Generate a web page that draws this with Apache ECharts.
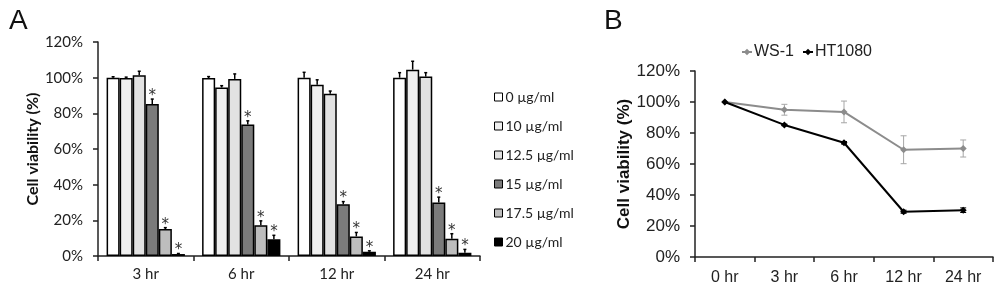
<!DOCTYPE html>
<html>
<head>
<meta charset="utf-8">
<script src="https://cdn.jsdelivr.net/npm/echarts@6/dist/echarts.min.js"></script>
<style>
html,body{margin:0;padding:0;background:#fff;}
#c{width:1000px;height:290px;}
</style>
</head>
<body>
<div id="c"></div>
<script>
// ---------- Panel A data ----------
const timesA = ['3 hr', '6 hr', '12 hr', '24 hr'];
const doses = ['0 µg/ml', '10 µg/ml', '12.5 µg/ml', '15 µg/ml', '17.5 µg/ml', '20 µg/ml'];
const dose0 = [100, 99.8, 100, 100];
const dose10 = [99.8, 94.5, 96, 104.5];
const dose125 = [101.4, 99.3, 91, 100.6];
const dose15 = [85.2, 73.8, 29, 30];
const dose175 = [15.1, 17.3, 11, 9.7];
const dose20 = [1.1, 9.4, 2.4, 1.8];
const err0 = [0.5, 0.8, 3, 2.8];
const err10 = [0.5, 1, 2.8, 4.7];
const err125 = [2.2, 2.8, 1.5, 2.2];
const err15 = [2.8, 2, 1.5, 3];
const err175 = [0.8, 2.4, 2.2, 2.8];
const err20 = [0.3, 2.2, 0.5, 1.9];
const sigA = [false, false, false, true, true, true];
const yTicksA = [0, 20, 40, 60, 80, 100, 120];

// ---------- Panel B data ----------
const timesB = ['0 hr', '3 hr', '6 hr', '12 hr', '24 hr'];
const ws1 = [100, 95, 93.6, 69.2, 70];
const ws1Err = [0, 3.5, 7, 9, 5.5];
const ht1080 = [100, 85.2, 73.7, 29.2, 30.2];
const ht1080Err = [0, 0.5, 0.8, 1, 1.5];
const yTicksB = [0, 20, 40, 60, 80, 100, 120];

const doseVals = [dose0, dose10, dose125, dose15, dose175, dose20];
const doseErrs = [err0, err10, err125, err15, err175, err20];
const doseColors = ['#ffffff', '#efefef', '#e2e2e2', '#7b7b7b', '#bdbdbd', '#000000'];
const CAT_GAP = 0.18;

const fontA = 'Lato';
const fontB = 'Liberation Sans';

const chart = echarts.init(document.getElementById('c'), null, {renderer: 'canvas'});

const barSeries = doses.map((d, s) => ({
  name: d,
  type: 'bar',
  xAxisIndex: 0, yAxisIndex: 0,
  data: doseVals[s],
  barGap: '0%',
  barCategoryGap: (CAT_GAP * 100) + '%',
  itemStyle: {color: doseColors[s], borderColor: '#000', borderWidth: 1.5},
  emphasis: {disabled: true},
  animation: false
}));

const errDataA = [];
doses.forEach((d, s) => {
  timesA.forEach((t, i) => {
    errDataA.push([i, s, doseVals[s][i], doseErrs[s][i], sigA[s] ? 1 : 0]);
  });
});

const errSeriesA = {
  type: 'custom',
  xAxisIndex: 0, yAxisIndex: 0,
  data: errDataA,
  z: 5,
  silent: true,
  animation: false,
  renderItem: function (params, api) {
    const i = api.value(0), s = api.value(1), v = api.value(2), e = api.value(3), sig = api.value(4);
    const c = api.coord([i, v]);
    const band = api.size([1, 0])[0];
    const bw = band * (1 - CAT_GAP) / 6;
    const x = c[0] + (s - 2.5) * bw;
    const top = api.coord([i, v + e])[1];
    const children = [
      {type: 'line', shape: {x1: x, y1: c[1], x2: x, y2: top}, style: {stroke: '#000', lineWidth: 1.5}},
      {type: 'line', shape: {x1: x - 1.5, y1: top, x2: x + 1.5, y2: top}, style: {stroke: '#000', lineWidth: 1.5}}
    ];
    if (sig) {
      children.push({type: 'text', style: {text: '*', x: x, y: top - 3, align: 'center', verticalAlign: 'middle', font: '15px "DejaVu Sans"', fill: '#333'}});
    }
    return {type: 'group', children: children};
  }
};

const errDataB = [];
timesB.forEach((t, i) => {
  errDataB.push([i, ws1[i], ws1Err[i], 0]);
  errDataB.push([i, ht1080[i], ht1080Err[i], 1]);
});

const errSeriesB = {
  type: 'custom',
  xAxisIndex: 1, yAxisIndex: 1,
  data: errDataB,
  z: 1,
  silent: true,
  animation: false,
  renderItem: function (params, api) {
    const i = api.value(0), v = api.value(1), e = api.value(2), k = api.value(3);
    if (e <= 0) return null;
    const hi = api.coord([i, v + e]);
    const lo = api.coord([i, v - e]);
    const col = k === 0 ? '#a6a6a6' : '#000';
    return {type: 'group', children: [
      {type: 'line', shape: {x1: hi[0], y1: hi[1], x2: lo[0], y2: lo[1]}, style: {stroke: col, lineWidth: 1}},
      {type: 'line', shape: {x1: hi[0] - 3, y1: hi[1], x2: hi[0] + 3, y2: hi[1]}, style: {stroke: col, lineWidth: 1}},
      {type: 'line', shape: {x1: lo[0] - 3, y1: lo[1], x2: lo[0] + 3, y2: lo[1]}, style: {stroke: col, lineWidth: 1}}
    ]};
  }
};

const option = {
  backgroundColor: '#fff',
  animation: false,
  title: [
    {text: 'A', left: 4, top: 2, textStyle: {fontFamily: fontB, fontSize: 28, fontWeight: 'normal', color: '#111'}},
    {text: 'B', left: 599, top: 2, textStyle: {fontFamily: fontB, fontSize: 28, fontWeight: 'normal', color: '#111'}}
  ],
  grid: [
    {left: 98, top: 42, width: 382, height: 214},
    {left: 695, top: 71, width: 298, height: 186}
  ],
  legend: [
    {
      data: doses,
      orient: 'vertical',
      left: 489, top: 84,
      icon: 'rect',
      itemWidth: 8, itemHeight: 8,
      itemGap: 13,
      selectedMode: false,
      textStyle: {fontFamily: fontA, fontSize: 14, color: '#222', lineHeight: 16, padding: [0, 0, 0, -2]},
      itemStyle: {borderColor: '#000', borderWidth: 1}
    },
    {
      data: ['WS-1', 'HT1080'],
      orient: 'horizontal',
      left: 736, top: 39,
      itemWidth: 10, itemHeight: 8,
      itemGap: 8,
      selectedMode: false,
      textStyle: {fontFamily: fontB, fontSize: 16, color: '#222', padding: [0, 0, 0, -3]}
    }
  ],
  xAxis: [
    {
      gridIndex: 0, type: 'category', data: timesA,
      axisLine: {lineStyle: {color: '#222', width: 1.5}},
      axisTick: {show: true, length: 5, lineStyle: {color: '#222', width: 1.5}},
      axisLabel: {fontFamily: fontA, fontSize: 15, color: '#222', margin: 11}
    },
    {
      gridIndex: 1, type: 'category', data: timesB,
      axisLine: {lineStyle: {color: '#222', width: 1.5}},
      axisTick: {show: true, length: 5, lineStyle: {color: '#222', width: 1.5}},
      axisLabel: {fontFamily: fontB, fontSize: 16, color: '#222', margin: 13}
    }
  ],
  yAxis: [
    {
      gridIndex: 0, type: 'value', min: yTicksA[0], max: yTicksA[yTicksA.length - 1], interval: 20,
      name: 'Cell viability (%)', nameLocation: 'middle', nameGap: 53,
      nameTextStyle: {fontFamily: fontA, fontSize: 16, fontWeight: 'bold', color: '#111'},
      splitLine: {show: false},
      axisLine: {show: true, lineStyle: {color: '#222', width: 1.5}},
      axisTick: {show: true, length: 5, lineStyle: {color: '#222', width: 1.5}},
      axisLabel: {fontFamily: fontA, fontSize: 15, color: '#222', margin: 15, formatter: '{value}%'}
    },
    {
      gridIndex: 1, type: 'value', min: yTicksB[0], max: yTicksB[yTicksB.length - 1], interval: 20,
      name: 'Cell viability (%)', nameLocation: 'middle', nameGap: 62,
      nameTextStyle: {fontFamily: fontB, fontSize: 17, fontWeight: 'bold', color: '#111'},
      splitLine: {show: false},
      axisLine: {show: true, lineStyle: {color: '#222', width: 1.5}},
      axisTick: {show: true, length: 5, lineStyle: {color: '#222', width: 1.5}},
      axisLabel: {fontFamily: fontB, fontSize: 17, color: '#222', margin: 15, formatter: '{value}%'}
    }
  ],
  series: barSeries.concat([
    errSeriesA,
    errSeriesB,
    {
      name: 'WS-1', type: 'line', xAxisIndex: 1, yAxisIndex: 1, data: ws1,
      symbol: 'diamond', symbolSize: 7, z: 3,
      itemStyle: {color: '#8c8c8c'}, lineStyle: {color: '#8c8c8c', width: 2},
      emphasis: {disabled: true}
    },
    {
      name: 'HT1080', type: 'line', xAxisIndex: 1, yAxisIndex: 1, data: ht1080,
      symbol: 'diamond', symbolSize: 7, z: 4,
      itemStyle: {color: '#000'}, lineStyle: {color: '#000', width: 2},
      emphasis: {disabled: true}
    }
  ])
};

chart.setOption(option);
</script>
</body>
</html>
